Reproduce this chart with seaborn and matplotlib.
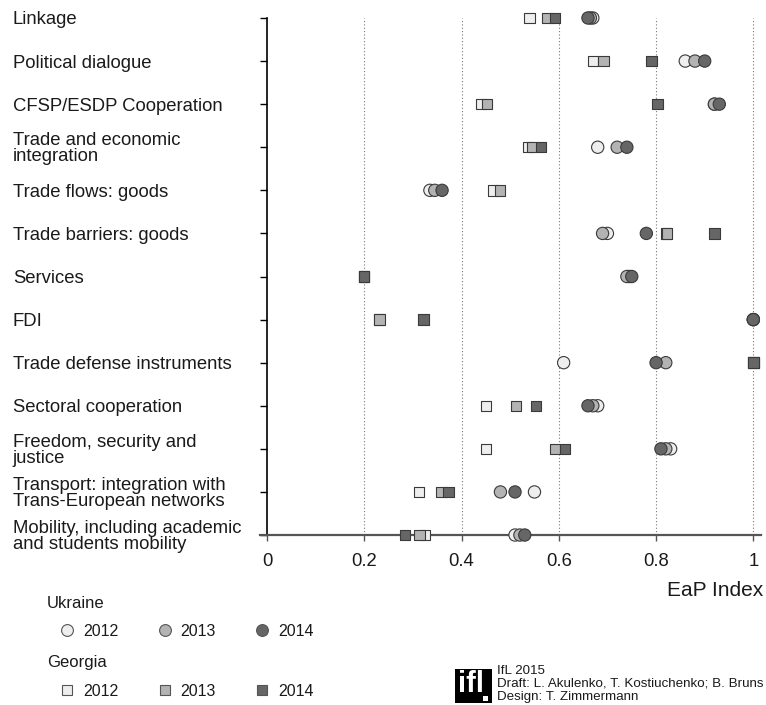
import numpy as np
import pandas as pd
import matplotlib
matplotlib.use("Agg")
import matplotlib.pyplot as plt
import seaborn as sns
from matplotlib.lines import Line2D
from matplotlib.patches import Rectangle

# --- data -----------------------------------------------------------------
categories = [
    "Linkage",
    "Political dialogue",
    "CFSP/ESDP Cooperation",
    "Trade and economic\nintegration",
    "Trade flows: goods",
    "Trade barriers: goods",
    "Services",
    "FDI",
    "Trade defense instruments",
    "Sectoral cooperation",
    "Freedom, security and\njustice",
    "Transport: integration with\nTrans-European networks",
    "Mobility, including academic\nand students mobility",
]
years = ["2012", "2013", "2014"]

ukraine_2012 = [0.67, 0.86, 0.92, 0.68, 0.335, 0.70, 0.745, 1.00, 0.61, 0.68, 0.83, 0.55, 0.51]
ukraine_2013 = [0.665, 0.88, 0.92, 0.72, 0.345, 0.69, 0.74, 1.00, 0.82, 0.67, 0.82, 0.48, 0.52]
ukraine_2014 = [0.66, 0.90, 0.93, 0.74, 0.36, 0.78, 0.75, 1.00, 0.80, 0.66, 0.81, 0.51, 0.53]

georgia_2012 = [0.54, 0.67, 0.44, 0.537, 0.465, 0.82, 0.20, 0.23, 1.00, 0.45, 0.45, 0.313, 0.325]
georgia_2013 = [0.577, 0.692, 0.452, 0.546, 0.479, 0.822, 0.20, 0.231, 1.00, 0.512, 0.592, 0.359, 0.314]
georgia_2014 = [0.592, 0.791, 0.803, 0.563, np.nan, 0.92, 0.20, 0.322, 1.00, 0.553, 0.613, 0.373, 0.284]

x_ticks = [0, 0.2, 0.4, 0.6, 0.8, 1.0]
x_tick_labels = ["0", "0.2", "0.4", "0.6", "0.8", "1"]

# --- style ----------------------------------------------------------------
sns.set_style("white")
plt.rcParams["font.family"] = ["Liberation Sans", "DejaVu Sans"]

palette = {"2012": "#eeeeee", "2013": "#b3b3b3", "2014": "#666666"}
edge = "#3a3a3a"
text_color = "#1a1a1a"

series = {
    "Georgia": dict(zip(years, [georgia_2012, georgia_2013, georgia_2014])),
    "Ukraine": dict(zip(years, [ukraine_2012, ukraine_2013, ukraine_2014])),
}
rows = []
for country, by_year in series.items():
    for year in years:
        for pos, (cat, v) in enumerate(zip(categories, by_year[year])):
            rows.append({"country": country, "year": year, "category": cat,
                         "pos": pos, "value": v})
df = pd.DataFrame(rows).dropna()

fig = plt.figure(figsize=(7.66, 7.05), dpi=100)
ax = fig.add_axes([0.339, 0.2411, 0.654, 0.7334])

sns.scatterplot(data=df[df.country == "Georgia"], x="value", y="pos",
                hue="year", hue_order=years, palette=palette, marker="s",
                s=57, edgecolor=edge, linewidth=0.8, legend=False, ax=ax,
                clip_on=False, zorder=4)
sns.scatterplot(data=df[df.country == "Ukraine"], x="value", y="pos",
                hue="year", hue_order=years, palette=palette, marker="o",
                s=78, edgecolor=edge, linewidth=0.8, legend=False, ax=ax,
                clip_on=False, zorder=5)

# --- axes -----------------------------------------------------------------
ax.set_xlim(-0.015, 1.015)
ax.set_ylim(len(categories) - 1, 0)
ax.set_xlabel("")
ax.set_ylabel("")

# spines first: repositioning a spine rebuilds the ticks
ax.spines["top"].set_visible(False)
ax.spines["right"].set_visible(False)
ax.spines["left"].set_position(("data", 0))
ax.spines["left"].set_color("black")
ax.spines["left"].set_linewidth(1.2)
ax.spines["bottom"].set_color("#555555")
ax.spines["bottom"].set_linewidth(1.6)

ax.set_xticks(x_ticks)
ax.set_xticklabels(x_tick_labels, fontsize=13.3, color=text_color)
ax.set_yticks(range(len(categories)))
ax.set_yticklabels(categories, fontsize=13.3, linespacing=0.92,
                   color=text_color)

ax.tick_params(axis="y", direction="out", length=5, width=1, color="black",
               pad=178, left=True)
ax.tick_params(axis="x", direction="out", length=4.5, width=1,
               color="#555555", pad=8.5, bottom=True)
for lbl in ax.get_yticklabels():
    lbl.set_horizontalalignment("left")

ax.grid(False)
for gx in x_ticks[1:]:
    ax.axvline(gx, color="#777777", linestyle=(0, (1, 2)), linewidth=0.8,
               zorder=1)

fig.text(763 / 766, 1 - 590 / 705, "EaP Index", ha="right", va="center",
         fontsize=15, color=text_color)

# --- legends --------------------------------------------------------------
def legend_handles(marker, size):
    return [Line2D([], [], marker=marker, linestyle="", markersize=size,
                   markerfacecolor=palette[y], markeredgecolor="#555555",
                   markeredgewidth=0.8, label=y) for y in years]

legend_kw = dict(loc="center left", ncol=3, frameon=False, borderpad=0,
                 borderaxespad=0, handlelength=1.0, handletextpad=0.5,
                 columnspacing=2.4, fontsize=11.5, labelcolor=text_color,
                 bbox_transform=fig.transFigure)

fig.text(47 / 766, 1 - 604 / 705, "Ukraine", ha="left", va="center",
         fontsize=12, color=text_color)
fig.legend(handles=legend_handles("o", 8.5),
           bbox_to_anchor=(59 / 766, 1 - 631 / 705), **legend_kw)
fig.text(47 / 766, 1 - 663 / 705, "Georgia", ha="left", va="center",
         fontsize=12, color=text_color)
fig.legend(handles=legend_handles("s", 7.5),
           bbox_to_anchor=(59 / 766, 1 - 691 / 705), **legend_kw)

# --- credits --------------------------------------------------------------
fig.add_artist(Rectangle((455 / 766, 1 - 703 / 705), 37 / 766, 34 / 705,
                         transform=fig.transFigure, facecolor="black",
                         edgecolor="none"))
fig.text(458 / 766, 1 - 684 / 705, "ifl", color="white", fontsize=21,
         fontweight="bold", ha="left", va="center")
fig.add_artist(Rectangle((483 / 766, 1 - 701 / 705), 5 / 766, 5 / 705,
                         transform=fig.transFigure, facecolor="white",
                         edgecolor="none"))

credits = ["IfL 2015", "Draft: L. Akulenko, T. Kostiuchenko; B. Bruns",
           "Design: T. Zimmermann"]
for i, line in enumerate(credits):
    fig.text(497 / 766, 1 - (671 + 13 * i) / 705, line, ha="left",
             va="center", fontsize=9.6, color=text_color)

fig.savefig("out.png", dpi=100)
